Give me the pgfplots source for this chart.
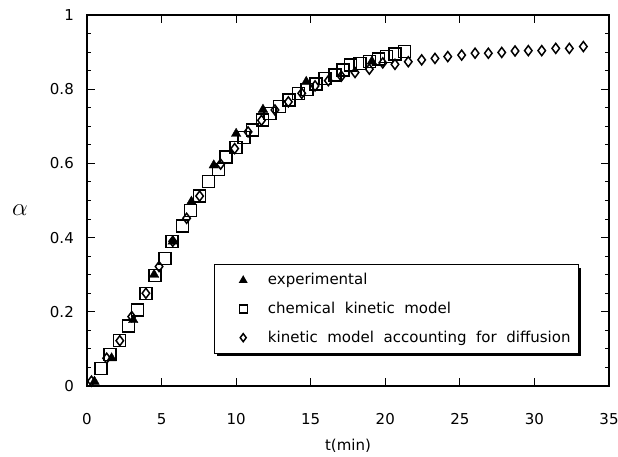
\documentclass[border=0pt]{standalone}
\usepackage{pgfplots}
\pgfplotsset{compat=1.18}
\usepackage{fontspec}
\setmainfont{DejaVu Sans}
\newfontfamily\legfont[WordSpace=2.0]{DejaVu Sans}
\usetikzlibrary{shadows}
\pgfplotsset{myleg/.style={legend image code/.code={\pgfpathrectangle{\pgfpoint{0cm}{-4pt}}{\pgfpoint{1.6cm}{8pt}}\pgfusepath{use as bounding box}\draw[mark size=4pt] plot coordinates {(0.8cm,0cm)};}}}
\begin{document}
\fontsize{15}{17}\selectfont
\begin{tikzpicture}
\begin{axis}[
  scale only axis, width=522pt, height=371pt,
  xmin=0, xmax=35, ymin=0, ymax=1,
  xtick={0,5,...,35}, ytick={0,0.2,0.4,0.6,0.8,1},
  yticklabels={0,0.2,0.4,0.6,0.8,1},
  minor y tick num=3,
  tick align=inside, tick pos=both,
  major tick length=8pt, minor tick length=4pt,
  axis line style={line width=1.3pt},
  every tick/.style={line width=1pt, black},
  /pgf/number format/assume math mode=true,
  tick label style={font=\fontsize{15}{17}\selectfont},
  xticklabel style={yshift=-22pt},
  yticklabel style={xshift=-8pt},
  xlabel={t(min)}, ylabel={$\alpha$},
  xlabel style={font=\fontsize{15}{17}\selectfont, yshift=-4pt},
  ylabel style={font=\fontsize{24}{26}\selectfont, rotate=-90, xshift=-12pt, yshift=-10pt},
  legend style={at={(0.243,0.329)}, anchor=north west, draw=black, line width=1.2pt,
    fill=white, drop shadow={shadow xshift=3pt, shadow yshift=-3pt, fill=black, opacity=1},
    font=\legfont\fontsize{15}{17}\selectfont, row sep=11pt, inner xsep=6pt, inner ysep=7pt,
    cells={anchor=west}},
  legend cell align=left,
]
\addplot[only marks, myleg, mark=triangle*, mark size=5.5pt, black] coordinates {
(0.5,0.012) (1.65,0.075) (3.1,0.178) (4.5,0.300) (5.75,0.390) (7.0,0.497)
(8.5,0.595) (10.0,0.680) (11.8,0.745) (14.7,0.820) (19.1,0.875)
};
\addlegendentry{experimental}
\addplot[only marks, myleg, mark=square, mark size=6pt, black, mark options={line width=1.3pt}] coordinates {
(0.94,0.048) (1.54,0.084) (2.17,0.122) (2.77,0.162) (3.37,0.205) (3.96,0.250)
(4.56,0.297) (5.23,0.344) (5.70,0.389) (6.39,0.431) (6.95,0.473) (7.53,0.512)
(8.13,0.551) (8.80,0.584) (9.32,0.617) (9.99,0.643) (10.53,0.670) (11.11,0.690)
(11.78,0.717) (12.27,0.735) (12.89,0.753) (13.54,0.771) (14.17,0.789) (14.75,0.800)
(15.35,0.814) (15.96,0.829) (16.63,0.838) (17.17,0.852) (17.68,0.865) (18.30,0.870)
(18.93,0.874) (19.53,0.881) (20.10,0.889) (20.65,0.895) (21.27,0.901)
};
\addlegendentry{chemical kinetic model}
\addplot[only marks, myleg, mark=diamond, mark size=5pt, black, mark options={line width=1.5pt}] coordinates {
(0.3,0.013) (1.32,0.075) (2.2,0.122) (3.0,0.187) (3.95,0.250) (4.83,0.322)
(5.75,0.390) (6.68,0.452) (7.55,0.512) (8.96,0.598) (9.9,0.640) (10.8,0.685)
(11.7,0.716) (12.6,0.744) (13.5,0.766) (14.4,0.789) (15.29,0.809) (16.18,0.823)
(17.05,0.835) (17.97,0.845) (18.93,0.854) (19.83,0.871) (20.65,0.867) (21.54,0.874)
(22.44,0.879) (23.33,0.883) (24.19,0.888) (25.12,0.892) (26.02,0.897) (26.91,0.897)
(27.81,0.899) (28.70,0.903) (29.59,0.904) (30.49,0.904) (31.43,0.910) (32.34,0.910)
(33.28,0.915)
};
\addlegendentry{kinetic model accounting for diffusion}
\coordinate (bl) at (rel axis cs:0,0);
\coordinate (tr) at (rel axis cs:1,1);
\end{axis}
\pgfresetboundingbox
\path ([shift={(-87pt,-70pt)}]bl) rectangle ([shift={(9pt,15pt)}]tr);
\end{tikzpicture}
\end{document}
